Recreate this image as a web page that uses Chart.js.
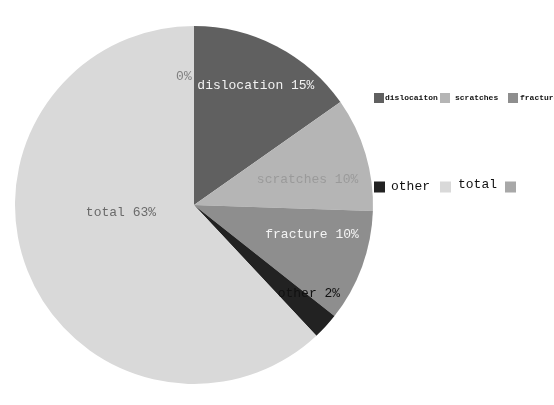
<!DOCTYPE html>
<html>
<head>
<meta charset="utf-8">
<script src="https://cdn.jsdelivr.net/npm/chart.js@4.4.1/dist/chart.umd.min.js"></script>
<style>
  html, body { margin: 0; padding: 0; background: #ffffff; }
  #wrap { position: relative; width: 554px; height: 405px; }
</style>
</head>
<body>
<div id="wrap"><canvas id="c" width="554" height="405"></canvas></div>
<script>
// ---- data ----
const categories = ["dislocation", "scratches", "fracture", "other", "total", ""];
const legendLabels = ["dislocaiton", "scratches", "fracture", "other", "total", ""];
const values = [15.4, 10.4, 10.2, 2.4, 62.6, 0];

// ---- style ----
const colors = ["#606060", "#b5b5b5", "#8e8e8e", "#222222", "#d9d9d9", "#a8a8a8"];
const labelColors = ["#f2f2f2", "#9a9a9a", "#f4f4f4", "#111111", "#6a6a6a", "#808080"];
const labelRadius = [0.75, 0.65, 0.68, 0.81, 0.41, 0.72];
const labelNudgeDeg = [0, 4, -6, -5, 16, -4.5];
const labelFont = "13px 'Liberation Mono', monospace";

const legendRows = [
  { y: 98, font: "bold 8px 'Liberation Mono', monospace", box: 10, items: [
    { i: 0, bx: 374, tx: 385 }, { i: 1, bx: 440, tx: 455 }, { i: 2, bx: 508, tx: 520 } ] },
  { y: 187, font: "13px 'Liberation Mono', monospace", box: 11, items: [
    { i: 3, bx: 374, tx: 391, ty: 0 }, { i: 4, bx: 440, tx: 458, ty: -2 }, { i: 5, bx: 505, tx: 522 } ] }
];

const overlay = {
  id: 'overlay',
  afterDraw(chart) {
    const ctx = chart.ctx;
    const meta = chart.getDatasetMeta(0);
    const arc0 = meta.data[0];
    const cx = arc0.x, cy = arc0.y, R = arc0.outerRadius;
    ctx.save();
    ctx.font = labelFont;
    ctx.textAlign = 'center';
    ctx.textBaseline = 'middle';
    meta.data.forEach((arc, i) => {
      const mid = (arc.startAngle + arc.endAngle) / 2 + labelNudgeDeg[i] * Math.PI / 180;
      const r = R * labelRadius[i];
      const x = cx + Math.cos(mid) * r;
      const y = cy + Math.sin(mid) * r;
      const txt = (categories[i] ? categories[i] + ' ' : '') + Math.round(values[i]) + '%';
      ctx.fillStyle = labelColors[i];
      ctx.fillText(txt, x, y);
    });
    // legend
    ctx.textAlign = 'left';
    legendRows.forEach(row => {
      ctx.font = row.font;
      row.items.forEach(it => {
        ctx.fillStyle = colors[it.i];
        ctx.fillRect(it.bx, row.y - row.box / 2, row.box, row.box);
        ctx.fillStyle = '#111111';
        ctx.fillText(legendLabels[it.i], it.tx, row.y + (it.ty || 0));
      });
    });
    ctx.restore();
  }
};

new Chart(document.getElementById('c'), {
  type: 'pie',
  data: {
    labels: categories,
    datasets: [{
      data: values,
      backgroundColor: colors,
      borderWidth: 0
    }]
  },
  options: {
    responsive: false,
    animation: false,
    layout: { padding: { left: 15, right: 181, top: 26, bottom: 21 } },
    plugins: { legend: { display: false }, tooltip: { enabled: false } }
  },
  plugins: [overlay]
});
</script>
</body>
</html>
